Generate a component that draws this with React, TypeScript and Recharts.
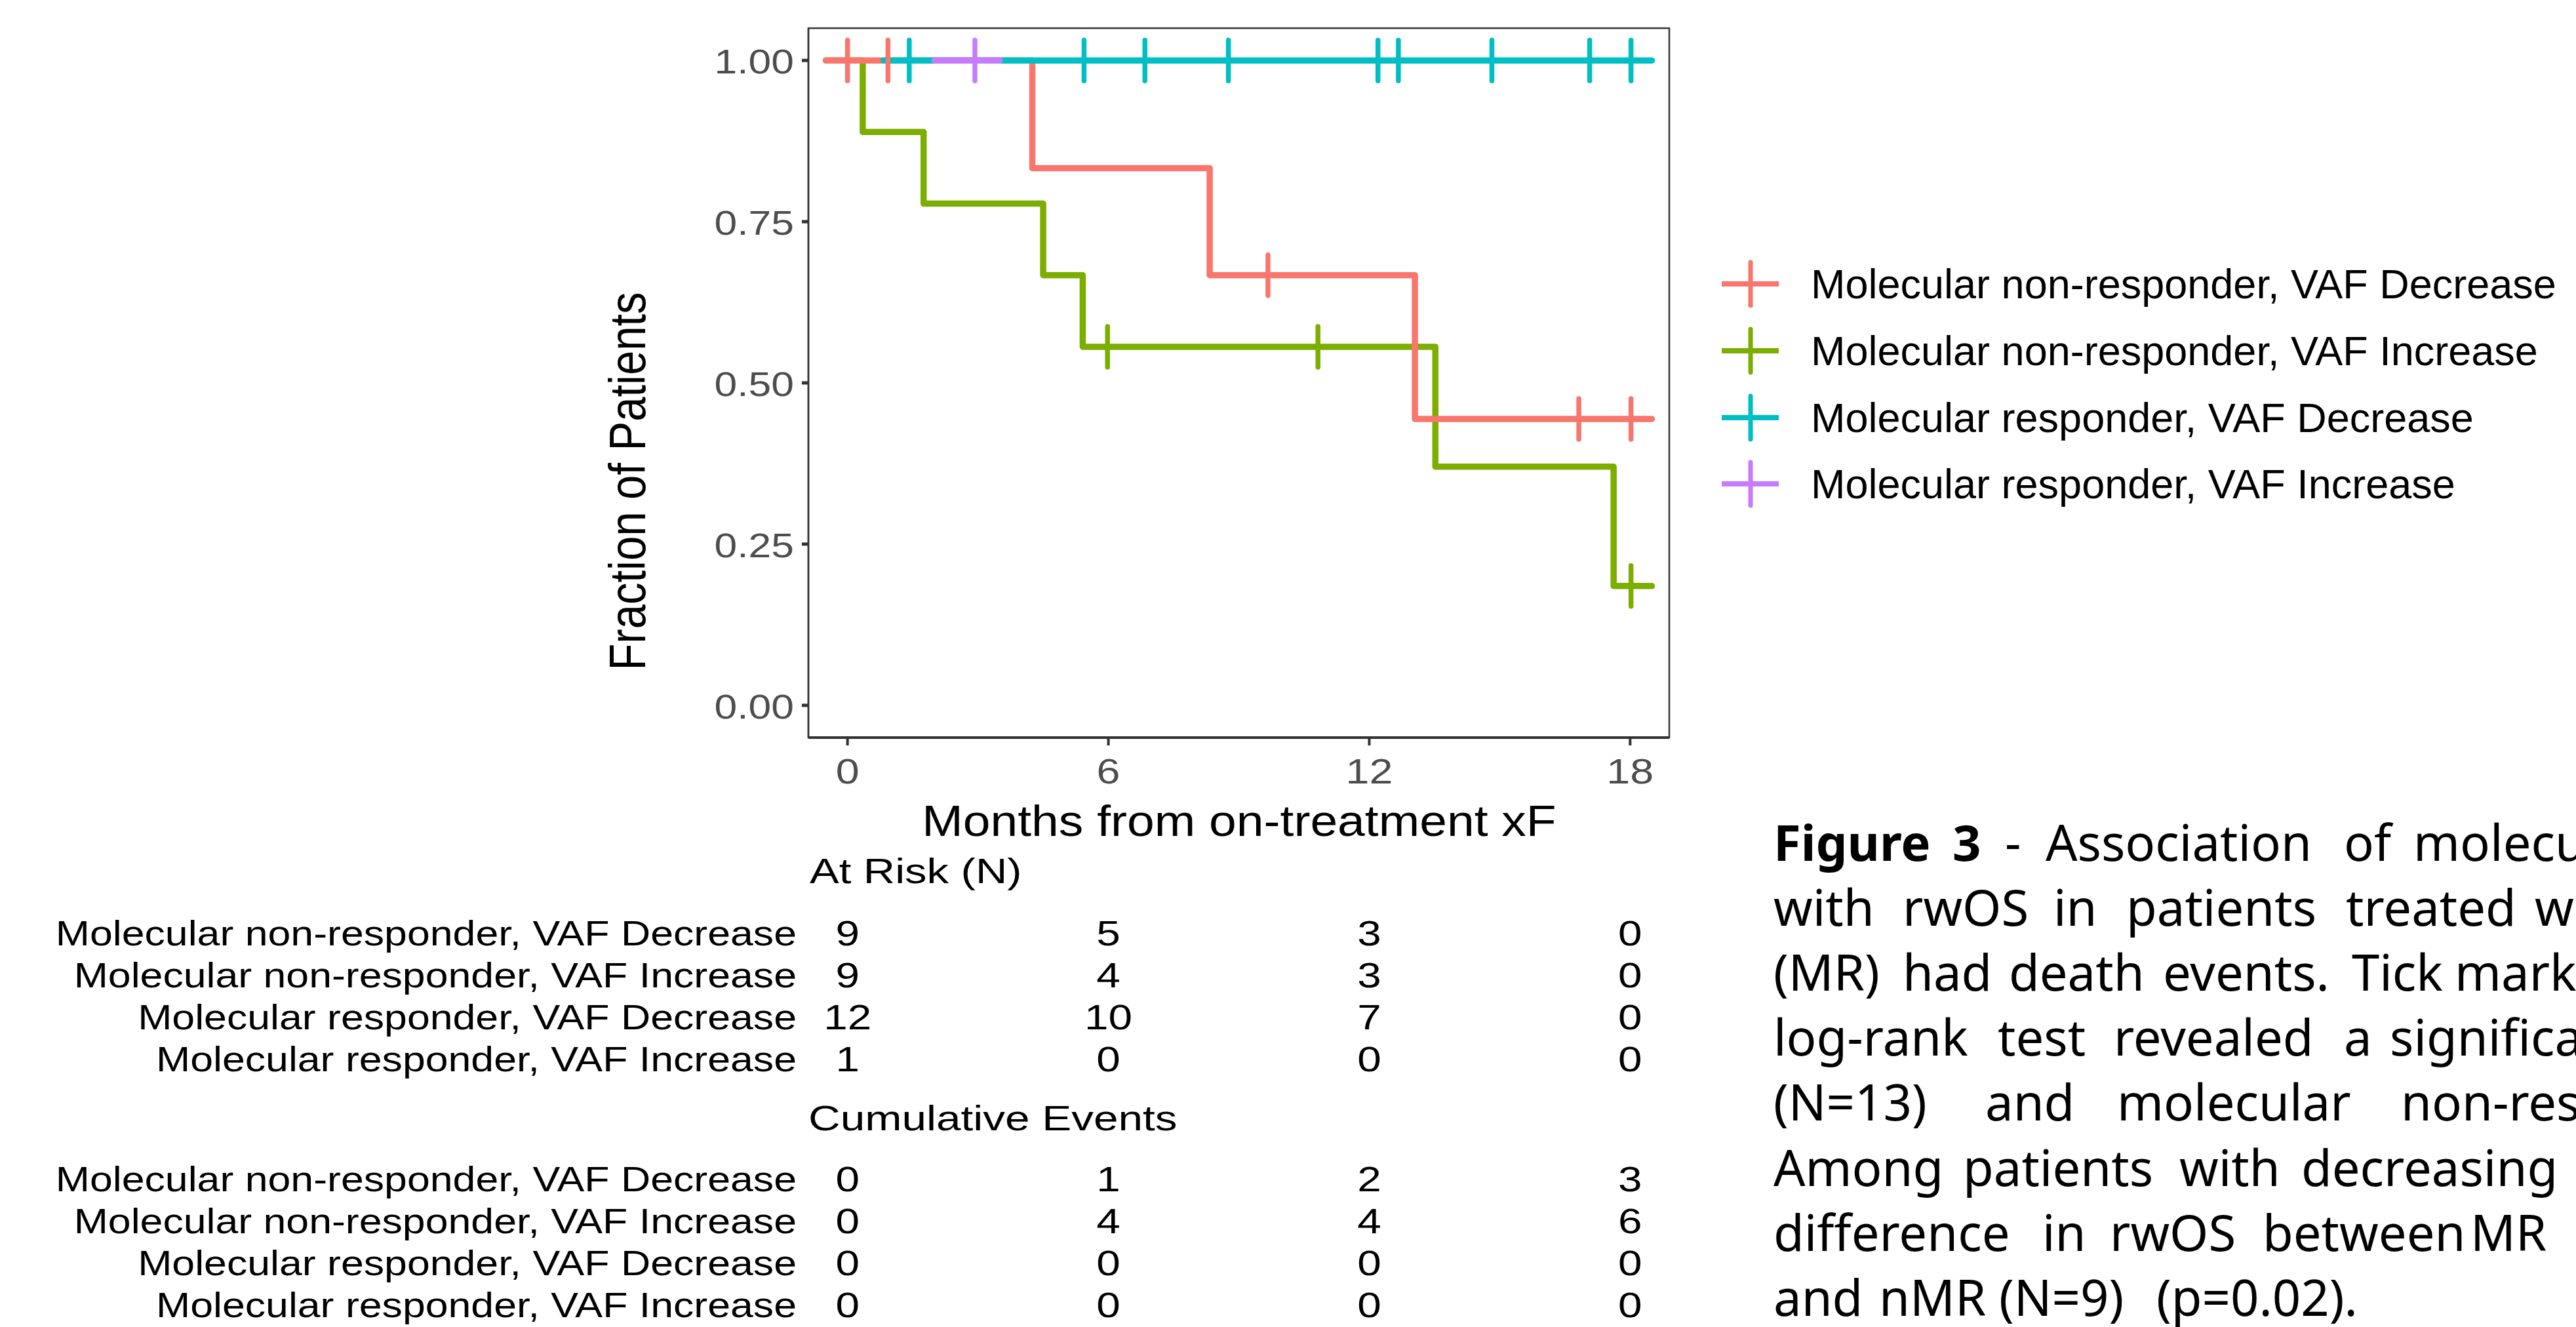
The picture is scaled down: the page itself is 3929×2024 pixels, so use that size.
import React from 'react';
import { ComposedChart, ScatterChart, Line, Scatter, XAxis, YAxis, ReferenceArea } from 'recharts';

const W = 3929;
const H = 2024;
const PLOT_FONT = '"Liberation Sans", Arial, Helvetica, sans-serif';
const CAPTION_FONT = '"Noto Sans", "Open Sans", sans-serif';

// strata, in legend / table order
const groupNames = [
  'Molecular non-responder, VAF Decrease',
  'Molecular non-responder, VAF Increase',
  'Molecular responder, VAF Decrease',
  'Molecular responder, VAF Increase',
];
const groupColors = ['#F8766D', '#7CAE00', '#00BFC4', '#C77CFF'];

// KM step curves: t = months, s = fraction of patients
const curveNmrDecrease = [
  { t: -0.5, s: 1 },
  { t: 4.25, s: 0.833 },
  { t: 8.33, s: 0.667 },
  { t: 13.05, s: 0.444 },
  { t: 18.5, s: 0.444 },
];
const curveNmrIncrease = [
  { t: -0.5, s: 1 },
  { t: 0.35, s: 0.889 },
  { t: 1.75, s: 0.778 },
  { t: 4.5, s: 0.667 },
  { t: 5.41, s: 0.556 },
  { t: 13.52, s: 0.37 },
  { t: 17.62, s: 0.185 },
  { t: 18.5, s: 0.185 },
];
const curveMrDecrease = [
  { t: 0.83, s: 1 },
  { t: 18.5, s: 1 },
];
const curveMrIncrease = [
  { t: 2.0, s: 1 },
  { t: 3.5, s: 1 },
];

// censoring tick times (months)
const censorNmrDecrease = [0, 0.93, 9.67, 16.82, 18.02];
const censorNmrIncrease = [5.98, 10.82, 18.02];
const censorMrDecrease = [1.42, 5.44, 6.84, 8.76, 12.2, 12.67, 14.82, 17.07, 18.02];
const censorMrIncrease = [2.93];

const monthTicks = [0, 6, 12, 18];
const fractionTicks = [0, 0.25, 0.5, 0.75, 1];

// risk table
const tableTimes = [0, 6, 12, 18];
const atRiskNmrDecrease = [9, 5, 3, 0];
const atRiskNmrIncrease = [9, 4, 3, 0];
const atRiskMrDecrease = [12, 10, 7, 0];
const atRiskMrIncrease = [1, 0, 0, 0];
const eventsNmrDecrease = [0, 1, 2, 3];
const eventsNmrIncrease = [0, 4, 4, 6];
const eventsMrDecrease = [0, 0, 0, 0];
const eventsMrIncrease = [0, 0, 0, 0];

const curves = [curveNmrDecrease, curveNmrIncrease, curveMrDecrease, curveMrIncrease];
const censorTimes = [censorNmrDecrease, censorNmrIncrease, censorMrDecrease, censorMrIncrease];
const drawOrder = [1, 0, 2, 3];

const levelAt = (curve: { t: number; s: number }[], time: number) => {
  let s = curve[0].s;
  for (const p of curve) if (p.t <= time) s = p.s;
  return s;
};
const censorPoints = censorTimes.map((times, i) => times.map((t) => ({ t, s: levelAt(curves[i], t) })));

const tableRows = (arrays: number[][]) =>
  arrays.flatMap((vals, gi) => vals.map((n, ti) => ({ t: tableTimes[ti], row: gi + 1, n })));
const atRiskRows = tableRows([atRiskNmrDecrease, atRiskNmrIncrease, atRiskMrDecrease, atRiskMrIncrease]);
const eventRows = tableRows([eventsNmrDecrease, eventsNmrIncrease, eventsMrDecrease, eventsMrIncrease]);

// caption words with their x positions (justified text, cut by the right edge)
const captionLines: { w: string; x: number; b?: boolean }[][] = [
  [{ w: 'Figure', x: 2705, b: true }, { w: '3', x: 2978, b: true }, { w: '-', x: 3058 }, { w: 'Association', x: 3120 }, { w: 'of', x: 3575 }, { w: 'molecular', x: 3681 }],
  [{ w: 'with', x: 2705 }, { w: 'rwOS', x: 2902 }, { w: 'in', x: 3132 }, { w: 'patients', x: 3243 }, { w: 'treated', x: 3578 }, { w: 'with', x: 3866 }],
  [{ w: '(MR)', x: 2705 }, { w: 'had', x: 2902 }, { w: 'death', x: 3064 }, { w: 'events.', x: 3299 }, { w: 'Tick', x: 3587 }, { w: 'marks', x: 3744 }],
  [{ w: 'log-rank', x: 2705 }, { w: 'test', x: 3047 }, { w: 'revealed', x: 3224 }, { w: 'a', x: 3575 }, { w: 'significant', x: 3645 }],
  [{ w: '(N=13)', x: 2705 }, { w: 'and', x: 3028 }, { w: 'molecular', x: 3229 }, { w: 'non-responders', x: 3662 }],
  [{ w: 'Among', x: 2705 }, { w: 'patients', x: 2994 }, { w: 'with', x: 3324 }, { w: 'decreasing', x: 3510 }],
  [{ w: 'difference', x: 2705 }, { w: 'in', x: 3115 }, { w: 'rwOS', x: 3218 }, { w: 'between', x: 3451 }, { w: 'MR', x: 3768 }],
  [{ w: 'and', x: 2705 }, { w: 'nMR', x: 2866 }, { w: '(N=9)', x: 3049 }, { w: '(p=0.02).', x: 3289 }],
];

const XTick = (props: any) => {
  const { x, y, payload } = props;
  return (
    <text transform={`translate(${x},${y + 38}) scale(1.22,1)`} textAnchor="middle" fontSize={53} fill="#4D4D4D" fontFamily={PLOT_FONT}>
      {payload.value}
    </text>
  );
};

const YTick = (props: any) => {
  const { x, y, payload } = props;
  return (
    <text transform={`translate(${x},${y + 20}) scale(1.2,1)`} textAnchor="end" fontSize={52} fill="#4D4D4D" fontFamily={PLOT_FONT}>
      {Number(payload.value).toFixed(2)}
    </text>
  );
};

const RowLabel = (props: any) => {
  const { x, y, payload } = props;
  return (
    <text transform={`translate(${x},${y + 19}) scale(1.16,1)`} textAnchor="end" fontSize={54} fill="#000" fontFamily={PLOT_FONT}>
      {groupNames[payload.value - 1]}
    </text>
  );
};

const CellText = (props: any) => {
  const { cx, cy } = props;
  const n = props.payload ? props.payload.n : props.n;
  return (
    <text transform={`translate(${cx},${cy + 19}) scale(1.24,1)`} textAnchor="middle" fontSize={53} fill="#000" fontFamily={PLOT_FONT}>
      {n}
    </text>
  );
};

const censorShape = (color: string) => (props: any) => {
  const { cx, cy } = props;
  return <line x1={cx} x2={cx} y1={cy - 31} y2={cy + 31} stroke={color} strokeWidth={7.5} strokeLinecap="round" />;
};

const RiskTable = ({ top, rows }: { top: number; rows: { t: number; row: number; n: number }[] }) => (
  <div style={{ position: 'absolute', left: 0, top }}>
    <ScatterChart width={W} height={256} margin={{ top: 0, right: 1383, bottom: 0, left: 1033 }}>
      <XAxis type="number" dataKey="t" domain={[-0.9, 18.9]} allowDataOverflow hide />
      <YAxis
        type="number"
        dataKey="row"
        domain={[0.5, 4.5]}
        ticks={[1, 2, 3, 4]}
        interval={0}
        reversed
        allowDataOverflow
        width={200}
        axisLine={false}
        tickLine={false}
        tickSize={0}
        tickMargin={18}
        tick={RowLabel}
      />
      <Scatter data={rows} shape={CellText} isAnimationActive={false} />
    </ScatterChart>
  </div>
);

const Text = ({ x, y, size, sx = 1, anchor = 'start', rotate, children }: any) => (
  <text
    transform={`translate(${x},${y}) scale(${sx},1)${rotate ? ` rotate(${rotate})` : ''}`}
    textAnchor={anchor}
    fontSize={size}
    fill="#000"
    fontFamily={PLOT_FONT}
  >
    {children}
  </text>
);

const legendRows = [433, 535, 637, 738];

export default function App() {
  return (
    <div style={{ position: 'absolute', left: 0, top: 0, width: W, height: H, overflow: 'hidden', background: '#fff' }}>
      <div style={{ position: 'absolute', left: 0, top: 0 }}>
        <ComposedChart width={W} height={H} margin={{ top: 43, right: 1383, bottom: 799, left: 1033 }}>
          <XAxis
            type="number"
            dataKey="t"
            domain={[-0.9, 18.9]}
            ticks={monthTicks}
            interval={0}
            allowDataOverflow
            height={100}
            tickSize={12}
            tickMargin={20}
            tickLine={{ stroke: '#333', strokeWidth: 4 }}
            axisLine={{ stroke: '#333', strokeWidth: 4 }}
            tick={XTick}
          />
          <YAxis
            type="number"
            domain={[-0.05, 1.05]}
            ticks={fractionTicks}
            interval={0}
            allowDataOverflow
            width={200}
            tickSize={10}
            tickMargin={12}
            tickLine={{ stroke: '#333', strokeWidth: 5 }}
            axisLine={{ stroke: '#333', strokeWidth: 2.5 }}
            tick={YTick}
          />
          <ReferenceArea x1={-0.9} x2={18.9} y1={-0.05} y2={1.05} fill="none" fillOpacity={0} stroke="#333" strokeWidth={2.5} ifOverflow="visible" />
          {drawOrder.map((i) => (
            <Line
              key={`curve-${i}`}
              data={curves[i]}
              dataKey="s"
              type="stepAfter"
              stroke={groupColors[i]}
              strokeWidth={9.5}
              strokeLinecap="round"
              strokeLinejoin="round"
              dot={false}
              activeDot={false}
              isAnimationActive={false}
            />
          ))}
          {drawOrder.map((i) => (
            <Scatter key={`censor-${i}`} data={censorPoints[i]} dataKey="s" shape={censorShape(groupColors[i])} isAnimationActive={false} />
          ))}
        </ComposedChart>
      </div>

      <RiskTable top={1391} rows={atRiskRows} />
      <RiskTable top={1766} rows={eventRows} />

      <svg width={W} height={H} style={{ position: 'absolute', left: 0, top: 0, pointerEvents: 'none' }}>
        {/* axis titles */}
        <Text x={984} y={734} size={67} sx={1.15} anchor="middle" rotate={-90}>
          Fraction of Patients
        </Text>
        <Text x={1890} y={1275} size={67} sx={1.12} anchor="middle">
          Months from on-treatment xF
        </Text>
        <Text x={1235} y={1347} size={54} sx={1.24}>
          At Risk (N)
        </Text>
        <Text x={1233} y={1724} size={54} sx={1.25}>
          Cumulative Events
        </Text>

        {/* legend */}
        {groupNames.map((name, i) => (
          <g key={name}>
            <line x1={2626} x2={2713} y1={legendRows[i]} y2={legendRows[i]} stroke={groupColors[i]} strokeWidth={8} />
            <line x1={2670} x2={2670} y1={legendRows[i] - 33} y2={legendRows[i] + 33} stroke={groupColors[i]} strokeWidth={7} strokeLinecap="round" />
            <text x={2762} y={legendRows[i] + 22} fontSize={63} fill="#000" fontFamily={PLOT_FONT}>
              {name}
            </text>
          </g>
        ))}

        {/* caption */}
        {captionLines.map((line, li) => (
          <text key={li} y={1313 + li * 99.1} fontSize={76} fill="#000" fontFamily={CAPTION_FONT}>
            {line.map((wd, wi) => (
              <tspan key={wi} x={wd.x} fontWeight={wd.b ? 700 : 400}>
                {wd.w}
              </tspan>
            ))}
          </text>
        ))}
      </svg>
    </div>
  );
}
